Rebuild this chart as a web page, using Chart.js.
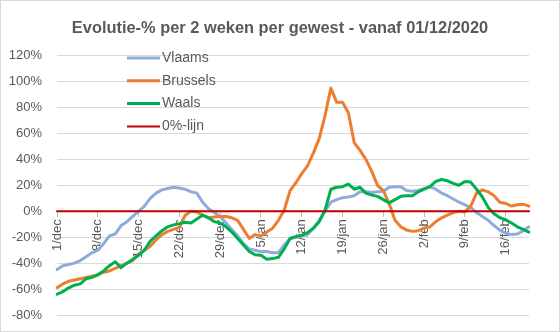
<!DOCTYPE html>
<html>
<head>
<meta charset="utf-8">
<script src="https://cdn.jsdelivr.net/npm/chart.js@4/dist/chart.umd.min.js"></script>
<style>
  html, body { margin: 0; padding: 0; background: #fff; }
  #frame { width: 560px; height: 332px; box-sizing: border-box; border: 1px solid #d9d9d9; }
  canvas { display: block; }
</style>
</head>
<body>
<div id="frame"><canvas id="chart" width="558" height="330"></canvas></div>
<script>
// dagen 1/dec t/m 20/feb
const categories = [
  '1/dec','2/dec','3/dec','4/dec','5/dec','6/dec','7/dec','8/dec','9/dec','10/dec',
  '11/dec','12/dec','13/dec','14/dec','15/dec','16/dec','17/dec','18/dec','19/dec','20/dec',
  '21/dec','22/dec','23/dec','24/dec','25/dec','26/dec','27/dec','28/dec','29/dec','30/dec',
  '31/dec','1/jan','2/jan','3/jan','4/jan','5/jan','6/jan','7/jan','8/jan','9/jan',
  '10/jan','11/jan','12/jan','13/jan','14/jan','15/jan','16/jan','17/jan','18/jan','19/jan',
  '20/jan','21/jan','22/jan','23/jan','24/jan','25/jan','26/jan','27/jan','28/jan','29/jan',
  '30/jan','31/jan','1/feb','2/feb','3/feb','4/feb','5/feb','6/feb','7/feb','8/feb',
  '9/feb','10/feb','11/feb','12/feb','13/feb','14/feb','15/feb','16/feb','17/feb','18/feb',
  '19/feb','20/feb'
];

// labels shown on the date axis
const tickLabels = ['1/dec','8/dec','15/dec','22/dec','29/dec','5/jan','12/jan','19/jan','26/jan','2/feb','9/feb','16/feb'];

const yTicks = [-80, -60, -40, -20, 0, 20, 40, 60, 80, 100, 120];

const vlaams = [
  -45, -42, -41, -40, -38, -35, -32, -30, -25, -19,
  -17.5, -11, -8, -4, 0, 4, 10, 14, 16.5, 17.5,
  18.5, 18, 17, 15, 14, 7, 2, -1, -4, -9,
  -14, -19, -25, -29, -30, -31, -31, -32, -32, -26,
  -21, -20, -19, -18, -13, -7, 0, 7, 9, 10.5,
  11, 12, 15, 15, 14.5, 15, 15.5, 18.5, 19, 19,
  16, 15.5, 16, 17.5, 19, 17, 14, 12, 9.5, 7,
  5, 3, -1, -4, -7, -11, -14.5, -17, -18, -17.5,
  -15, -12
];

const brussels = [
  -59, -56, -54, -53, -52, -51, -50, -49, -47, -46,
  -44, -42, -40, -38, -33, -30, -27, -22, -18, -15.5,
  -14, -12.5, -3, 0, -0.5, -3, -5, -4.5, -4, -4,
  -5, -7, -14, -21, -18, -19, -16, -13, -7, 1,
  16, 22, 29, 35, 45, 56, 74, 95, 84, 84,
  76, 53, 47, 40, 31, 20, 16, 6, -7, -12,
  -14.5, -15.5, -15, -13, -12, -8, -5, -3, -1, 0,
  -0.5, 4, 14, 16.5, 15, 12, 7, 6, 4, 5,
  5.5, 4
];

const waals = [
  -64, -62, -59, -57, -56, -52, -51, -49, -46, -42,
  -39, -43.5, -40, -37, -34, -30, -23, -19, -15, -12,
  -10.5, -9.5, -8.5, -9, -6, -3, -5, -8, -9, -12,
  -16, -21, -26, -31, -33.5, -34, -37, -36.5, -35.5, -29,
  -21, -19.5, -18.5, -16.5, -13, -8, 1, 17, 18.5, 19,
  21, 17, 18.5, 14, 12.5, 11.5, 9, 6.5, 9, 11.5,
  12, 12, 15, 17, 19, 23, 24.5, 23.5, 21.5, 20,
  23, 22.5, 17, 11, 3, -2, -5, -6.5, -9, -12,
  -14, -16
];

const nulLijn = [
  0, 0, 0, 0, 0, 0, 0, 0, 0, 0,
  0, 0, 0, 0, 0, 0, 0, 0, 0, 0,
  0, 0, 0, 0, 0, 0, 0, 0, 0, 0,
  0, 0, 0, 0, 0, 0, 0, 0, 0, 0,
  0, 0, 0, 0, 0, 0, 0, 0, 0, 0,
  0, 0, 0, 0, 0, 0, 0, 0, 0, 0,
  0, 0, 0, 0, 0, 0, 0, 0, 0, 0,
  0, 0, 0, 0, 0, 0, 0, 0, 0, 0,
  0, 0
];

Chart.defaults.font.family = '"Liberation Sans", Arial, sans-serif';
Chart.defaults.color = '#595959';

// legend drawn inside the plot, top-left
const inlineLegend = {
  id: 'inlineLegend',
  afterDraw(chart) {
    const ctx = chart.ctx;
    ctx.save();
    ctx.font = '14px "Liberation Sans", Arial, sans-serif';
    ctx.textBaseline = 'middle';
    ctx.textAlign = 'left';
    chart.data.datasets.forEach((ds, i) => {
      const y = 57 + i * 22.8;
      ctx.strokeStyle = ds.borderColor;
      ctx.lineWidth = ds.borderWidth;
      ctx.beginPath();
      ctx.moveTo(126, y);
      ctx.lineTo(159, y);
      ctx.stroke();
      ctx.fillStyle = '#595959';
      ctx.fillText(ds.label, 161, y);
    });
    ctx.restore();
  }
};

const line = (label, data, color, width, order) => ({
  label: label,
  data: data,
  borderColor: color,
  backgroundColor: color,
  borderWidth: width,
  pointRadius: 0,
  tension: 0,
  borderJoinStyle: 'round',
  borderCapStyle: 'round',
  order: order
});

// no extra space for overhanging labels, the margins are set by layout.padding
const noPadding = s => {
  s.paddingTop = 0;
  s.paddingBottom = 0;
  s.paddingLeft = 0;
  s.paddingRight = 0;
};

new Chart(document.getElementById('chart'), {
  type: 'line',
  data: {
    labels: categories,
    datasets: [
      line('Vlaams', vlaams, '#8faadc', 3, 3),
      line('Brussels', brussels, '#ed7d31', 3, 2),
      line('Waals', waals, '#00b050', 3, 1),
      line('0%-lijn', nulLijn, '#c00000', 2, 0)
    ]
  },
  options: {
    responsive: false,
    animation: false,
    devicePixelRatio: 1,
    layout: { padding: { left: 0, right: 0, top: 0, bottom: 16 } },
    plugins: {
      legend: { display: false },
      tooltip: { enabled: false },
      title: {
        display: true,
        text: 'Evolutie-% per 2 weken per gewest - vanaf 01/12/2020',
        color: '#595959',
        font: { size: 16.4, weight: 'bold' },
        padding: { top: 18, bottom: 17 }
      }
    },
    scales: {
      x: {
        position: { y: 0 },
        offset: false,
        afterFit: s => { s.height = 0; noPadding(s); },
        border: { display: true, color: '#bfbfbf' },
        grid: {
          drawOnChartArea: false,
          drawTicks: true,
          tickLength: 5,
          color: ctx => tickLabels.includes(categories[ctx.index]) ? '#bfbfbf' : 'rgba(0,0,0,0)'
        },
        ticks: {
          autoSkip: false,
          minRotation: 90,
          maxRotation: 90,
          padding: 3,
          font: { size: 13 },
          color: '#595959',
          callback: function (value) {
            const lab = this.getLabelForValue(value);
            return tickLabels.includes(lab) ? lab : '';
          }
        }
      },
      y: {
        min: yTicks[0],
        max: yTicks[yTicks.length - 1],
        afterFit: s => { s.width = 56; noPadding(s); },
        border: { display: false },
        grid: { color: '#d9d9d9', lineWidth: 1, drawTicks: false },
        afterBuildTicks: scale => { scale.ticks = yTicks.map(v => ({ value: v })); },
        ticks: {
          padding: 15,
          font: { size: 13 },
          color: '#595959',
          callback: v => v + '%'
        }
      },
      // empty right margin so the title stays centred on the full width
      yRight: {
        position: 'right',
        display: true,
        min: yTicks[0],
        max: yTicks[yTicks.length - 1],
        afterFit: s => { s.width = 30; noPadding(s); },
        border: { display: false },
        grid: { display: false, drawOnChartArea: false },
        ticks: { display: false }
      }
    }
  },
  plugins: [inlineLegend]
});
</script>
</body>
</html>
